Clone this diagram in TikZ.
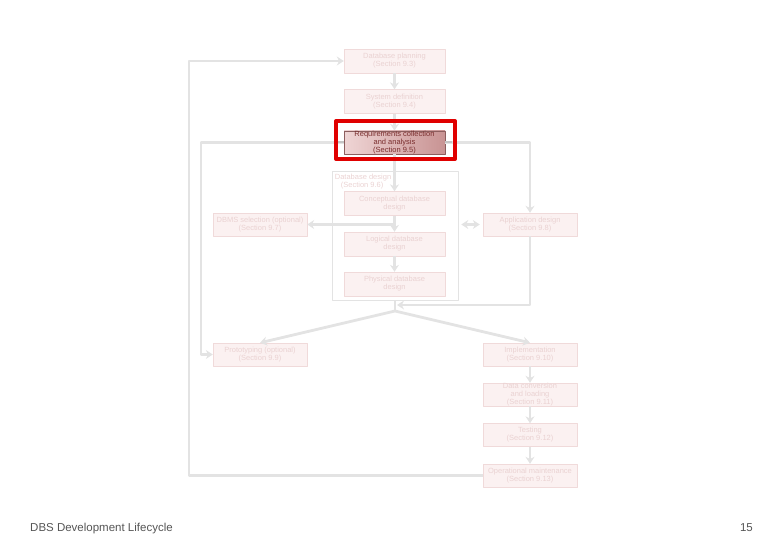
\documentclass[tikz,border=0pt]{standalone}
\usepackage{fontspec}
\setmainfont{Liberation Sans}
\usetikzlibrary{arrows.meta}
\definecolor{linegray}{HTML}{E3E3E3}
\definecolor{boxfill}{HTML}{FBF1F1}
\definecolor{boxedge}{HTML}{F0DADA}
\definecolor{fadetext}{HTML}{EAD2D2}
\definecolor{reqleft}{HTML}{EFD5D5}
\definecolor{reqright}{HTML}{C89393}
\definecolor{reqedge}{HTML}{8C5E5E}
\definecolor{reqtext}{HTML}{7A2E2E}
\definecolor{hired}{HTML}{E00000}
\definecolor{foot}{HTML}{555555}
\begin{document}
\begin{tikzpicture}[x=1pt, y=-1pt, line join=round, >={Stealth[length=7pt,width=9pt]},
    font=\fontsize{7.5}{8}\selectfont,
    stage/.style={draw=boxedge, fill=boxfill, text=fadetext, align=center, inner sep=0pt},
    wide/.style={stage, minimum width=101pt, minimum height=24pt},
    side/.style={stage, minimum width=94pt, minimum height=23pt},
    flow/.style={draw=linegray, line width=2.8pt}]
    \useasboundingbox (0,0) rectangle (780,540);
    % central column
    \node[wide] (plan) at (394.5,61) {Database planning\\(Section 9.3)};
    \node[wide] (sys) at (394.5,101.5) {System definition\\(Section 9.4)};
    \node[draw=linegray, line width=0.6pt, minimum width=126pt, minimum height=129pt] (dbdesign) at (395,235.5) {};
    \node[anchor=north west, text=fadetext, align=left, inner sep=0pt] (dblabel) at ([shift={(3,3)}]dbdesign.north west) {Database design\\\hspace*{6pt}(Section 9.6)};
    \node[wide] (concept) at (394.5,203.5) {Conceptual database\\design};
    \node[wide] (logic) at (394.5,244) {Logical database\\design};
    \node[wide] (phys) at (394.5,284) {Physical database\\design};
    % side stages
    \node[side] (dbms) at (260,224.5) {DBMS selection (optional)\\(Section 9.7)};
    \node[side] (app) at (530,224.5) {Application design\\(Section 9.8)};
    \node[side] (proto) at (260,354.5) {Prototyping (optional)\\(Section 9.9)};
    \node[side] (impl) at (530,354.5) {Implementation\\(Section 9.10)};
    \node[side] (conv) at (530,394.5) {Data conversion\\and loading\\(Section 9.11)};
    \node[side] (test) at (530,435) {Testing\\(Section 9.12)};
    \node[side] (oper) at (530,475.5) {Operational maintenance\\(Section 9.13)};
    \coordinate (split) at (395,311);
    % connectors
    \draw[flow, ->] (plan) -- (sys);
    \draw[flow, ->] (sys.south) -- ++(0,17);
    \draw[flow, ->] (dbdesign.north -| concept.north) ++(0,-14) -- (concept.north);
    \draw[flow, ->] (concept) -- (logic);
    \draw[flow, ->] (logic) -- (phys);
    \draw[flow, ->] (concept.south |- dbms.east) -- (dbms.east);
    \draw[flow, <->, shorten <=3pt, shorten >=3pt] (dbdesign.east |- app.west) -- (app.west);
    \draw[flow, ->] (app.south) |- ([xshift=2pt]dbdesign.south |- 0,305);
    \draw[flow] (dbdesign.south) -- (split);
    \draw[flow, ->] (split) -- (proto.north);
    \draw[flow, ->] (split) -- (impl.north);
    \draw[flow, ->] (impl) -- (conv);
    \draw[flow, ->] (conv) -- (test);
    \draw[flow, ->] (test) -- (oper);
    \draw[flow, ->] (oper.west) -- (189,475.5) |- (plan.west);
    % highlighted stage
    \node[draw=reqedge, left color=reqleft, right color=reqright, text=reqtext, align=center, inner sep=0pt, minimum width=101pt, minimum height=23pt] (req) at (394.5,142.5) {Requirements collection\\and analysis\\(Section 9.5)};
    \draw[flow, ->] (req.west) -- (201,142.5) |- (proto.west);
    \draw[flow, ->] (req.east) -| (app.north);
    \draw[flow] (req.south) -- (dbdesign.north -| req.south);
    \draw[linegray!70!gray, line width=2pt] (req.west) -- ++(-8,0) (req.east) -- ++(7,0);
    \node[draw=hired, line width=4pt, minimum width=119pt, minimum height=38pt] (focus) at (395.5,140) {};
    % footer
    \node[anchor=base west, text=foot, inner sep=0pt, font=\fontsize{11.5}{13}\selectfont] (title) at (30,531) {DBS Development Lifecycle};
    \node[anchor=base east, text=foot, inner sep=0pt, font=\fontsize{11.5}{13}\selectfont] (page) at (753,531) {15};
\end{tikzpicture}
\end{document}
